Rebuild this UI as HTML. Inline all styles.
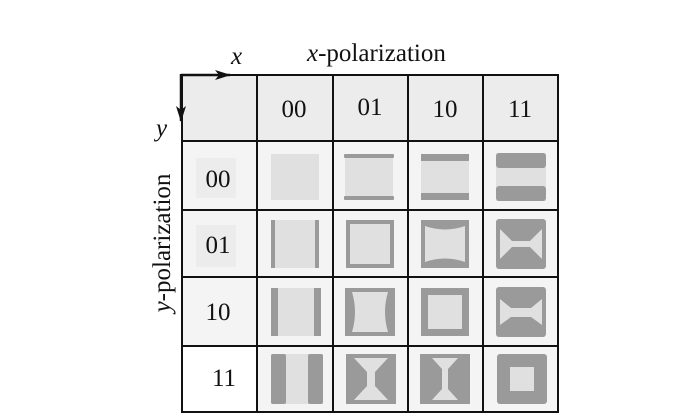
<!DOCTYPE html>
<html><head><meta charset="utf-8"><style>
html,body{margin:0;padding:0;background:#fff;}
svg{display:block;}
text{font-family:"Liberation Serif",serif;fill:#111;}
</style></head><body>
<svg width="700" height="420" viewBox="0 0 700 420" xmlns="http://www.w3.org/2000/svg">
<defs>
<marker id="ah" markerWidth="16" markerHeight="10" refX="15" refY="5" orient="auto" markerUnits="userSpaceOnUse">
<path d="M0,0 L16,5 L0,10 L4,5 Z" fill="#111"/>
</marker>
</defs>
<rect x="182" y="75" width="376" height="337" fill="#f4f4f4"/>
<rect x="182" y="75" width="376" height="66" fill="#ececec"/>
<rect x="182" y="346" width="75" height="66" fill="#fff"/>
<rect x="196" y="158" width="40" height="40" fill="#ececec"/>
<rect x="196" y="225" width="40" height="42" fill="#ececec"/>
<g stroke="#111" stroke-width="2" fill="none">
<rect x="182" y="75" width="376" height="337"/>
<line x1="257" y1="75" x2="257" y2="412"/>
<line x1="333" y1="75" x2="333" y2="412"/>
<line x1="408" y1="75" x2="408" y2="412"/>
<line x1="483" y1="75" x2="483" y2="412"/>
<line x1="182" y1="141" x2="558" y2="141"/>
<line x1="182" y1="210" x2="558" y2="210"/>
<line x1="182" y1="277" x2="558" y2="277"/>
<line x1="182" y1="346" x2="558" y2="346"/>
</g>
<line x1="181" y1="75" x2="230" y2="75" stroke="#111" stroke-width="2.5" marker-end="url(#ah)"/>
<line x1="181" y1="74" x2="181" y2="121" stroke="#111" stroke-width="2.5" marker-end="url(#ah)"/>
<text x="231" y="64" font-size="25" font-style="italic">x</text>
<text x="156" y="136" font-size="25" font-style="italic">y</text>
<text x="307" y="61" font-size="25"><tspan font-style="italic">x</tspan>-polarization</text>
<text transform="translate(170,243) rotate(-90)" font-size="25" text-anchor="middle"><tspan font-style="italic">y</tspan>-polarization</text>
<g font-size="25" text-anchor="middle">
<text x="294" y="117">00</text>
<text x="370" y="115">01</text>
<text x="445" y="117">10</text>
<text x="520" y="117">11</text>
<text x="218" y="187">00</text>
<text x="218" y="253">01</text>
<text x="218" y="320">10</text>
<text x="224" y="386">11</text>
</g>
<g fill="#e0e0e0">
<g transform="translate(271,154)"><rect width="48" height="46"/></g>
<g transform="translate(345,154)"><rect width="48" height="46"/><rect x="-1" y="0" width="50" height="4" fill="#9a9a9a" rx="1"/><rect x="-1" y="42" width="50" height="4" fill="#9a9a9a" rx="1"/></g>
<g transform="translate(421,154)"><rect width="48" height="46"/><rect y="0" width="48" height="7" fill="#9a9a9a"/><rect y="39" width="48" height="7" fill="#9a9a9a"/></g>
<g transform="translate(496,153)"><rect width="50" height="48"/><rect y="0" width="50" height="15" fill="#9a9a9a" rx="3"/><rect y="33" width="50" height="15" fill="#9a9a9a" rx="3"/></g>
<g transform="translate(271,220)"><rect width="48" height="48"/><rect x="0" width="4" height="48" fill="#9a9a9a"/><rect x="44" width="4" height="48" fill="#9a9a9a"/></g>
<g transform="translate(346,220)"><rect width="48" height="48" fill="#9a9a9a"/><rect x="4" y="4" width="40" height="40"/></g>
<g transform="translate(421,220)"><rect width="48" height="48" fill="#9a9a9a"/><path d="M4,6 Q24,13 44,6 L44,42 Q24,35 4,42 Z"/></g>
<g transform="translate(496,219)"><rect width="50" height="50" fill="#9a9a9a" rx="3"/><path d="M4,10 L16,22 L34,22 L46,10 L46,40 L34,28 L16,28 L4,40 Z"/></g>
<g transform="translate(271,288)"><rect width="50" height="48"/><rect width="7" height="48" fill="#9a9a9a"/><rect x="43" width="7" height="48" fill="#9a9a9a"/></g>
<g transform="translate(345,288)"><rect width="50" height="48" fill="#9a9a9a"/><path d="M7,4 Q13,24 7,44 L43,44 Q37,24 43,4 Z"/></g>
<g transform="translate(421,288)"><rect width="48" height="48" fill="#9a9a9a"/><rect x="7" y="7" width="34" height="34"/></g>
<g transform="translate(496,287)"><rect width="50" height="50" fill="#9a9a9a" rx="3"/><path d="M4,12 L15,21 L35,21 L46,12 L46,38 L35,30 L15,30 L4,38 Z"/></g>
<g transform="translate(271,354)"><rect width="52" height="50"/><rect width="15" height="50" fill="#9a9a9a" rx="2"/><rect x="37" width="15" height="50" fill="#9a9a9a" rx="2"/></g>
<g transform="translate(346,354)"><rect width="50" height="50" fill="#9a9a9a"/><path d="M8,4 L42,4 L29,18 L29,32 L42,46 L8,46 L21,32 L21,18 Z"/></g>
<g transform="translate(420,354)"><rect width="50" height="50" fill="#9a9a9a"/><path d="M12,4 L38,4 L28,15 L28,35 L38,46 L12,46 L22,35 L22,15 Z"/></g>
<g transform="translate(497,354)"><rect width="50" height="50" fill="#9a9a9a" rx="3"/><rect x="13" y="13" width="24" height="24"/></g>
</g>
</svg>
</body></html>
